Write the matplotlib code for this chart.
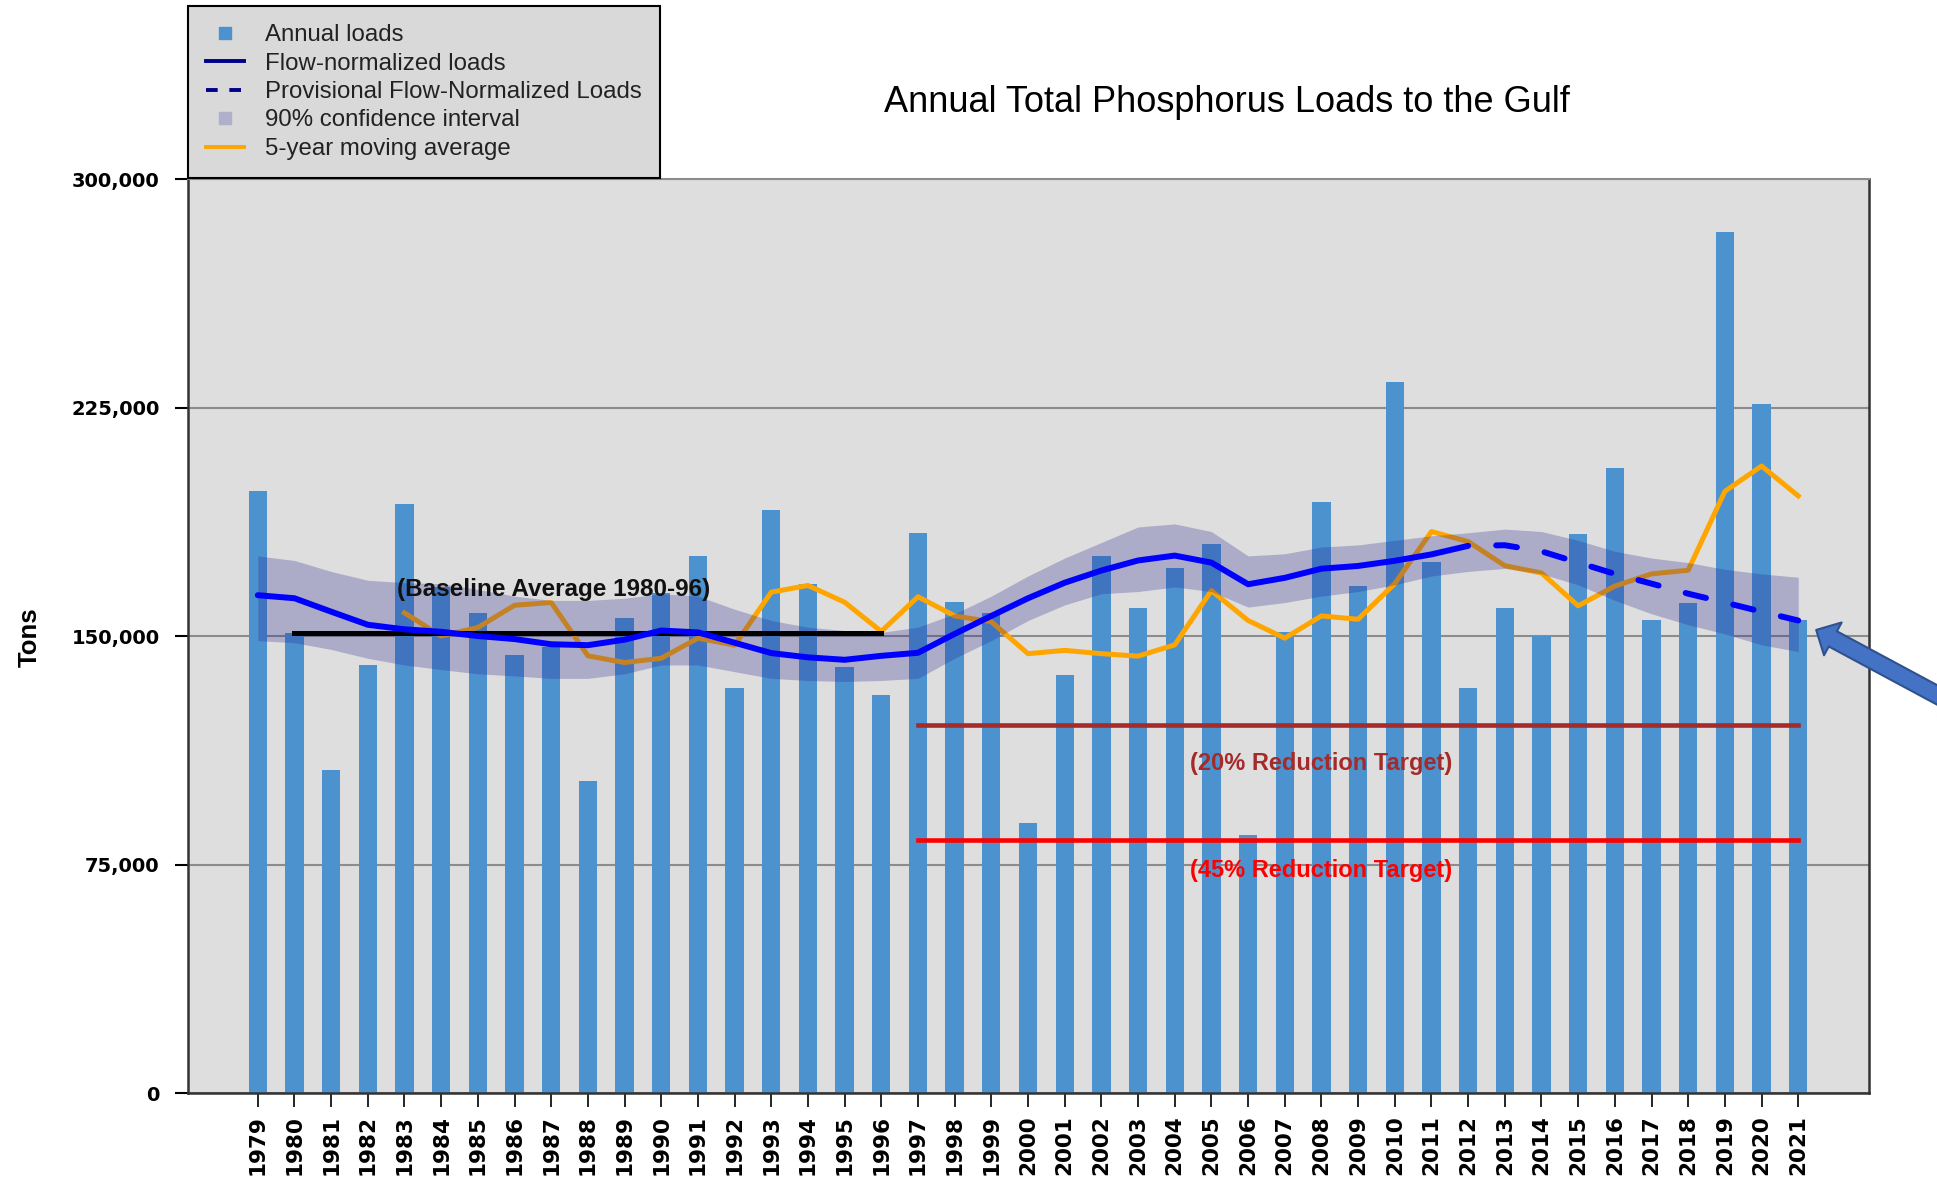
import matplotlib
matplotlib.use("Agg")
import matplotlib.pyplot as plt
from matplotlib.lines import Line2D
from matplotlib.ticker import FuncFormatter

# --- data (tons) ---
years = list(range(1979, 2022))
annual_loads = [197500, 151000, 105900, 140500, 193500, 166000, 157500, 143800, 146500, 102500,
                156000, 164000, 176300, 133100, 191500, 167100, 139700, 130500, 183800, 161300,
                157500, 88600, 137100, 176400, 159300, 172400, 180300, 84700, 151200, 194100,
                166400, 233400, 174300, 133100, 159300, 149900, 183600, 205300, 155400, 160700,
                282700, 226200, 155400]

fn_years = list(range(1979, 2013))
flow_norm = [163400, 162400, 158000, 153700, 152200, 151400, 150000, 149000, 147300, 147000,
             148800, 151800, 151200, 147800, 144400, 143000, 142200, 143500, 144500, 150700,
             156600, 162400, 167500, 171500, 174800, 176400, 174100, 167000, 169100, 172100,
             173000, 174700, 176800, 179600]

prov_years = list(range(2012, 2022))
prov_flow_norm = [179600, 179800, 177800, 174100, 170400, 167200, 163900, 161000, 158000, 155100]

ci_upper = [176300, 174800, 171200, 168300, 167500, 167200, 165300, 163100, 161700, 161700,
            162400, 163900, 163100, 158800, 155100, 152900, 151800, 151200, 152900, 157300,
            163100, 169700, 175600, 180700, 185800, 186800, 184300, 176300, 177000, 179200,
            179900, 181400, 182900, 183900, 185100, 184300, 181400, 177800, 175600, 174100,
            171900, 170400, 169300]
ci_lower = [148500, 147800, 145600, 142700, 140500, 139000, 137600, 136900, 136100, 136100,
            137600, 140500, 140500, 138300, 136100, 135400, 135100, 135400, 136100, 142700,
            148500, 155100, 160200, 163900, 164600, 166100, 164600, 159500, 161000, 163100,
            164600, 166800, 169700, 171200, 172200, 170400, 166800, 161700, 157300, 153700,
            150700, 147100, 144900]

ma_years = list(range(1983, 2022))
moving_avg = [157600, 150000, 152800, 160100, 161000, 143500, 141300, 142700, 149300, 147000,
              164400, 166600, 161100, 151500, 162900, 156600, 154700, 144200, 145300, 144200,
              143400, 147100, 164900, 155100, 149300, 156600, 155500, 167200, 184300, 181000,
              173100, 170700, 159900, 166400, 170400, 171600, 197500, 205800, 196000]

baseline_years = [1980, 1996]
baseline_avg = 150900
target_years = [1997, 2021]
target_20 = 120700
target_45 = 83000

yticks = [0, 75000, 150000, 225000, 300000]

fig = plt.figure(figsize=(19.37, 11.81), dpi=100)
ax = fig.add_axes([0.0971, 0.0745, 0.8678, 0.7739])
ax.set_facecolor('#dedede')

ax.bar(years, annual_loads, width=0.5, color='#4b92cf', zorder=2)
ax.plot(ma_years, moving_avg, color='#ffa500', lw=3.6, zorder=3)
ax.fill_between(years, ci_lower, ci_upper, color='#262692', alpha=0.27, lw=0, zorder=4)
ax.plot(baseline_years, [baseline_avg] * 2, color='black', lw=3.6, zorder=5)
ax.plot(target_years, [target_20] * 2, color='#a52a2a', lw=3.3, zorder=5)
ax.plot(target_years, [target_45] * 2, color='#ff0000', lw=3.3, zorder=5)
ax.plot(fn_years, flow_norm, color='#0000ff', lw=4.3, zorder=6, solid_capstyle='round')
ax.plot(prov_years, prov_flow_norm, color='#0000ff', lw=4.3, ls=(3.5, (3.5, 4.7)),
        dash_capstyle='round', zorder=6)

narrow = ['Liberation Sans Narrow', 'Liberation Sans', 'DejaVu Sans']
ax.text(1982.8, 165400, '(Baseline Average 1980-96)', family=narrow, weight='bold',
        fontsize=17.5, color='#111111', ha='left', va='center', zorder=7)
ax.text(2008, 108200, '(20% Reduction Target)', family=narrow, weight='bold',
        fontsize=17, color='#a52a2a', ha='center', va='center', zorder=7)
ax.text(2008, 73000, '(45% Reduction Target)', family=narrow, weight='bold',
        fontsize=17, color='#ff0000', ha='center', va='center', zorder=7)

ax.set_xlim(1977.1, 2022.93)
ax.set_ylim(0, 300000)
ax.set_yticks(yticks)
ax.yaxis.set_major_formatter(FuncFormatter(lambda v, p: f'{int(v):,}'))
ax.set_xticks(years)
ax.set_xticklabels([str(y) for y in years], rotation=90)
ax.grid(axis='y', color='#8c8c8c', lw=1.5, zorder=1)
ax.set_axisbelow(True)
ax.tick_params(axis='y', length=9.5, width=1.5, pad=11, labelsize=14)
ax.tick_params(axis='x', length=10, width=1.2, pad=6, labelsize=15.5)
for lab in ax.get_xticklabels() + ax.get_yticklabels():
    lab.set_fontweight('bold')
    lab.set_family('DejaVu Sans')
for side in ['left', 'right', 'bottom']:
    ax.spines[side].set_color('#333333')
    ax.spines[side].set_linewidth(1.8)
ax.spines['top'].set_color('#8c8c8c')
ax.spines['top'].set_linewidth(1.5)

fig.text(30 / 1937, 0.4606, 'Tons', rotation=90, family='Liberation Sans', weight='bold',
         fontsize=18.5, ha='center', va='center')
fig.text(0.6335, 0.9128, 'Annual Total Phosphorus Loads to the Gulf', family='Liberation Sans',
         fontsize=26, ha='center', va='center')

# arrow pointing at the last provisional value
ax.annotate('', xy=(2021.49, 152000), xycoords='data', xytext=(1.0325, 0.383),
            textcoords='figure fraction', annotation_clip=False,
            arrowprops=dict(arrowstyle='simple,head_width=1.34,head_length=0.68,tail_width=0.62',
                            fc='#4472c4', ec='#2f528f', lw=1.5, mutation_scale=20,
                            shrinkA=0, shrinkB=0))

handles = [
    Line2D([], [], ls='none', marker='s', markersize=8, color='#4b92cf'),
    Line2D([], [], color='#00008b', lw=2.8),
    Line2D([], [], color='#00008b', lw=2.8, dashes=(3, 3)),
    Line2D([], [], ls='none', marker='s', markersize=8, color='#b0b0cc'),
    Line2D([], [], color='#ffa500', lw=2.8),
]
labels = ['Annual loads', 'Flow-normalized loads', 'Provisional Flow-Normalized Loads',
          '90% confidence interval', '5-year moving average']
leg = fig.legend(handles, labels, loc='upper left', bbox_to_anchor=(188 / 1937, 1 - 6 / 1181),
                 borderaxespad=0, fancybox=False, framealpha=1, facecolor='#d9d9d9',
                 edgecolor='black', prop={'family': 'Liberation Sans', 'size': 17.3},
                 handlelength=1.6, handletextpad=0.85, labelspacing=0.27, borderpad=0.75)
leg.get_frame().set_linewidth(1.5)
for t in leg.get_texts():
    t.set_color('#222222')

fig.savefig('out.png', dpi=100)
